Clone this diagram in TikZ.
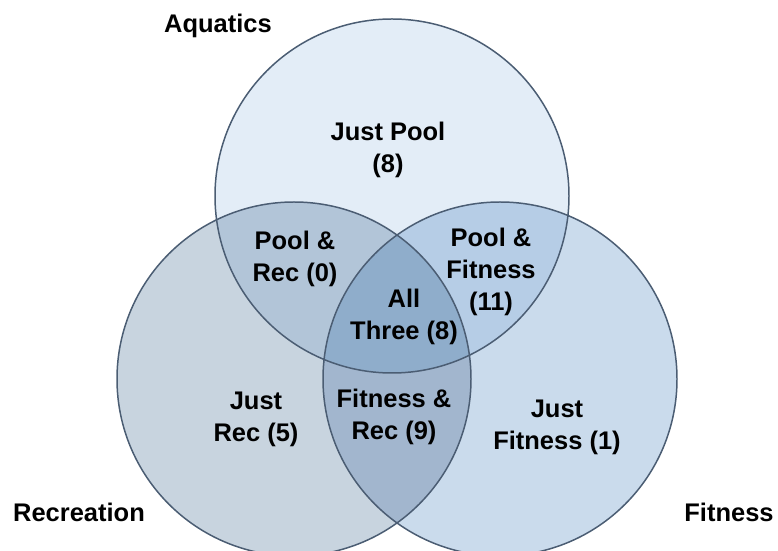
\documentclass[tikz,border=0pt]{standalone}
\usepackage{fontspec}
\setmainfont{Liberation Sans}
\usepackage{tikz}
\definecolor{poolc}{HTML}{E3EDF7}
\definecolor{recc}{HTML}{C8D4DF}
\definecolor{fitc}{HTML}{CADBEC}
\definecolor{poolrecc}{HTML}{B2C5D8}
\definecolor{poolfitc}{HTML}{B6CDE6}
\definecolor{fitrecc}{HTML}{A2B6CE}
\definecolor{allc}{HTML}{8FADCB}
\definecolor{edgec}{HTML}{4B5D73}
\def\Pool{(392,355) circle [radius=177]}
\def\Rec{(294,172) circle [radius=177]}
\def\Fit{(500,172) circle [radius=177]}
\tikzset{lbl/.style={font=\bfseries\fontsize{14.5pt}{18.2pt}\selectfont,align=center}}

\begin{document}
\begin{tikzpicture}[x=0.02cm,y=0.02cm]
\useasboundingbox (0,0) rectangle (778,551);
\clip (0,0) rectangle (778,551);
% plain circles
\fill [poolc] \Pool;
\fill [recc] \Rec;
\fill [fitc] \Fit;
% overlaps
\begin{scope}
  \clip \Pool;
  \fill [poolrecc] \Rec;
  \fill [poolfitc] \Fit;
\end{scope}
\begin{scope}
  \clip \Rec;
  \fill [fitrecc] \Fit;
  \clip \Fit;
  \fill [allc] \Pool;
\end{scope}
\draw [edgec,line width=0.85pt] \Pool \Rec \Fit;
% labels
\node [lbl] (aqua) at (218,525.5) {Aquatics};
\node [lbl] (recr) at (79,39) {Recreation};
\node [lbl] (fitn) at (729,39) {Fitness};
\node [lbl] (jpool) at (388,401.5) {Just Pool\\(8)};
\node [lbl] (poolrec) at (295,292.5) {Pool \&\\Rec (0)};
\node [lbl] (poolfit) at (491,279.5) {Pool \&\\Fitness\\(11)};
\node [lbl] (all) at (404,234.5) {All\\Three (8)};
\node [lbl] (jrec) at (256,132) {Just\\Rec (5)};
\node [lbl] (fitrec) at (394,134) {Fitness \&\\Rec (9)};
\node [lbl] (jfit) at (557,124) {Just\\Fitness (1)};
\end{tikzpicture}
\end{document}
